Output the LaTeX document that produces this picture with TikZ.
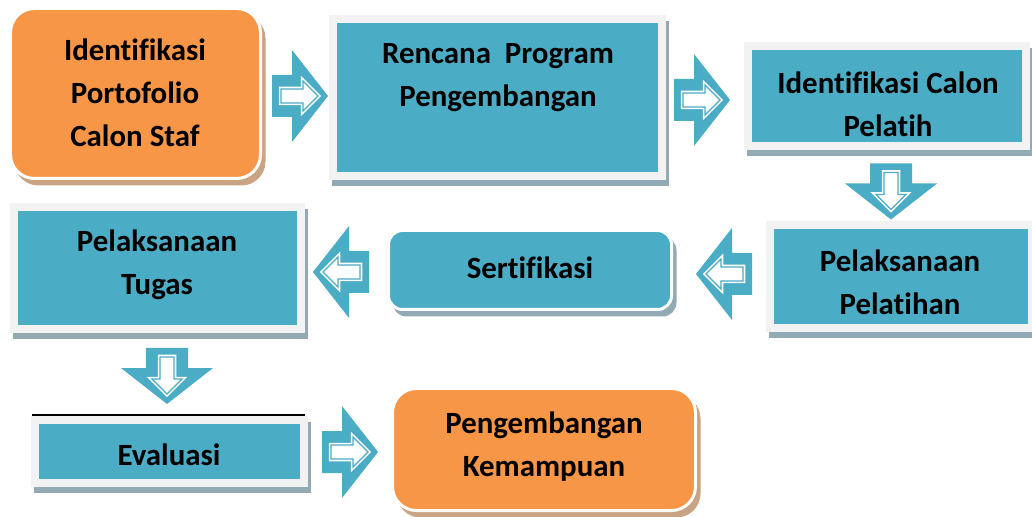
\documentclass[tikz,border=0pt]{standalone}
\usepackage{fontspec}
\setmainfont[Ligatures={NoCommon,NoContextual}]{Carlito}
\definecolor{tealbox}{RGB}{75,172,198}
\definecolor{orangebox}{RGB}{247,150,70}
\definecolor{framegray}{RGB}{242,242,242}
\definecolor{shadegray}{RGB}{146,170,180}
\definecolor{shadetan}{RGB}{200,164,132}
\tikzset{
  every node/.style={inner sep=0pt, outer sep=0pt},
  sqbox/.style={rectangle, fill=tealbox, draw=framegray, line width=8bp},
  rndteal/.style={rectangle, rounded corners=14bp, fill=tealbox, draw=white, line width=3bp},
  rndorange/.style={rectangle, rounded corners=24bp, fill=orangebox, draw=white, line width=3bp},
  lbl/.style={font=\bfseries\fontsize{31}{43}\selectfont, align=center, text=black},
  sqshadow/.style={fill=shadegray},
  tealshadow/.style={fill=shadegray, rounded corners=14bp},
  tanshadow/.style={fill=shadetan, rounded corners=24bp},
  bigarr/.pic={
    \fill[tealbox] (-28,-21) -- (-8,-21) -- (-8,-46) -- (28,0) -- (-8,46) -- (-8,21) -- (-28,21) -- cycle;
    \draw[white, line width=4.5bp, line join=miter]
      (-19,-7) -- (3,-7) -- (3,-15) -- (18,0) -- (3,15) -- (3,7) -- (-19,7) -- cycle;
    \filldraw[fill=white, draw=tealbox, line width=1.3bp, line join=miter]
      (-19,-7) -- (3,-7) -- (3,-15) -- (18,0) -- (3,15) -- (3,7) -- (-19,7) -- cycle;
  }
}
\begin{document}
\begin{tikzpicture}[x=1bp,y=-1bp]
\useasboundingbox (0,0) rectangle (1032,517);

% box centres
\path
  (135.5,93.5) coordinate (c1)
  (497.5,97.5) coordinate (c2)
  (887,96)     coordinate (c3)
  (901,276.5)  coordinate (c4)
  (530,270)    coordinate (c5)
  (157.5,268)  coordinate (c6)
  (169.5,451.5) coordinate (c7)
  (544,449.5)  coordinate (c8);

% shadows
\fill[tanshadow] ([shift={(-125+4,-85+6)}]c1) rectangle ([shift={(125+5,85+7)}]c1);
\fill[sqshadow] ([shift={(-164.5-1,-78.5+2)}]c2) rectangle ([shift={(164.5+7,78.5+10)}]c2);
\fill[sqshadow] ([shift={(-139-1,-50+2)}]c3) rectangle ([shift={(139+7,50+10)}]c3);
\fill[sqshadow] ([shift={(-131-1,-51.5+2)}]c4) rectangle ([shift={(131+7,51.5+10)}]c4);
\fill[tealshadow] ([shift={(-141.5+4,-39.5+6)}]c5) rectangle ([shift={(141.5+5,39.5+7)}]c5);
\fill[sqshadow] ([shift={(-143.5-1,-61+2)}]c6) rectangle ([shift={(143.5+7,61+10)}]c6);
\fill[sqshadow] ([shift={(-134.5-1,-31.5+2)}]c7) rectangle ([shift={(134.5+7,31.5+10)}]c7);
\fill[tanshadow] ([shift={(-151.5+4,-61+6)}]c8) rectangle ([shift={(151.5+5,61+7)}]c8);

% boxes
\node[rndorange, minimum width=250bp, minimum height=170bp] (b1) at (c1) {};
\node[sqbox, minimum width=329bp, minimum height=157bp] (b2) at (c2) {};
\node[sqbox, minimum width=278bp, minimum height=100bp] (b3) at (c3) {};
\node[sqbox, minimum width=262bp, minimum height=103bp] (b4) at (c4) {};
\node[rndteal, minimum width=283bp, minimum height=79bp] (b5) at (c5) {};
\node[sqbox, minimum width=287bp, minimum height=122bp] (b6) at (c6) {};
\node[sqbox, minimum width=269bp, minimum height=63bp] (b7) at (c7) {};
\node[rndorange, minimum width=303bp, minimum height=122bp] (b8) at (c8) {};

% line above Evaluasi
\draw[black, line width=1.3bp] ([shift={(-3,-5)}]b7.north west) -- ([shift={(1,-5)}]b7.north east);

% labels
\node[lbl] (t1) at (135,93) {Identifikasi\\Portofolio\\Calon Staf};
\node[lbl] (t2) at (498,78) {Rencana\ \ Program\\Pengembangan};
\node[lbl] (t3) at (888,104) {Identifikasi Calon\\Pelatih};
\node[lbl] (t4) at (900,282) {Pelaksanaan\\Pelatihan};
\node[lbl] (t5) at (530,268) {Sertifikasi};
\node[lbl] (t6) at (157,265) {Pelaksanaan\\Tugas};
\node[lbl] (t7) at (169,455) {Evaluasi};
\node[lbl] (t8) at (544,447) {Pengembangan\\Kemampuan};

% block arrows
\pic at (300,96) {bigarr};
\pic at (702,100) {bigarr};
\pic[rotate=-90] at (891,191.5) {bigarr};
\pic[rotate=180] at (724,274) {bigarr};
\pic[rotate=180] at (341,272) {bigarr};
\pic[rotate=-90] at (167,376) {bigarr};
\pic at (350,452) {bigarr};
\end{tikzpicture}
\end{document}
